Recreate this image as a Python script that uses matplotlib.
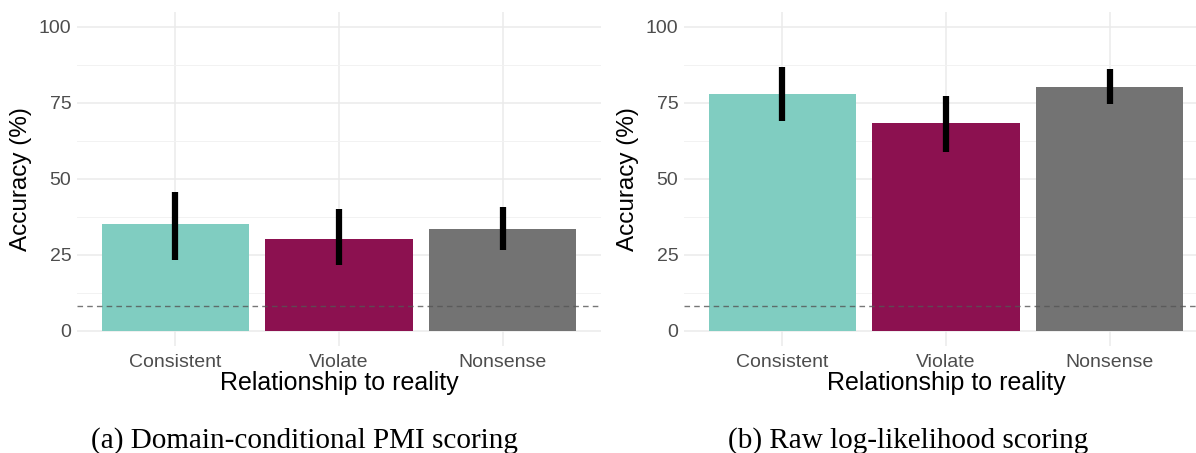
import numpy as np
import matplotlib
matplotlib.use('Agg')
import matplotlib.pyplot as plt

plt.rcParams['font.family'] = ['Liberation Sans', 'DejaVu Sans']

categories = ["Consistent", "Violate", "Nonsense"]
colors = ["#80cdc1", "#8c1150", "#737373"]

pmi_acc = [35.2, 30.2, 33.5]
pmi_lo = [23.3, 21.7, 26.7]
pmi_hi = [45.5, 40.1, 40.6]

raw_acc = [77.8, 68.4, 80.2]
raw_lo = [69.0, 58.8, 74.6]
raw_hi = [86.9, 77.2, 86.0]

chance = 8.2
captions = ["(a) Domain-conditional PMI scoring", "(b) Raw log-likelihood scoring"]
caption_x = [304, 908]

W, H = 1196, 453
fig = plt.figure(figsize=(W / 100, H / 100), dpi=100)

panels = [(77, pmi_acc, pmi_lo, pmi_hi), (684, raw_acc, raw_lo, raw_hi)]
for i, (x0, acc, lo, hi) in enumerate(panels):
    ax = fig.add_axes([x0 / W, (H - 346) / H, 524 / W, 334.5 / H])
    x = np.arange(len(categories))
    ax.set_xlim(-0.6, 2.6)
    ax.set_ylim(-5, 105)
    ax.set_yticks([0, 25, 50, 75, 100])
    ax.set_yticks([12.5, 37.5, 62.5, 87.5], minor=True)
    ax.set_xticks(x)
    ax.set_xticklabels(categories)
    ax.grid(which='major', color='#ebebeb', linewidth=1.1, zorder=0)
    ax.grid(which='minor', axis='y', color='#f2f2f2', linewidth=0.7, zorder=0)
    ax.bar(x, acc, width=0.9, color=colors, zorder=2)
    ax.vlines(x, lo, hi, color='black', linewidth=4.5, zorder=3)
    ax.axhline(chance, color='#555555', linestyle=(0, (4, 3)), linewidth=1.0, alpha=0.8, zorder=4)
    for s in ax.spines.values():
        s.set_visible(False)
    ax.tick_params(which='both', length=0, labelsize=14, labelcolor='#4d4d4d')
    ax.tick_params(axis='x', pad=6)
    ax.tick_params(axis='y', pad=4)
    ax.set_ylabel("Accuracy (%)", fontsize=17.5, labelpad=5)
    ax.set_xlabel("Relationship to reality", fontsize=18, labelpad=0)
    fig.text(caption_x[i] / W, 12 / H, captions[i],
             family='Liberation Serif', fontsize=21, ha='center', va='center')

fig.savefig("out.png", dpi=100)
